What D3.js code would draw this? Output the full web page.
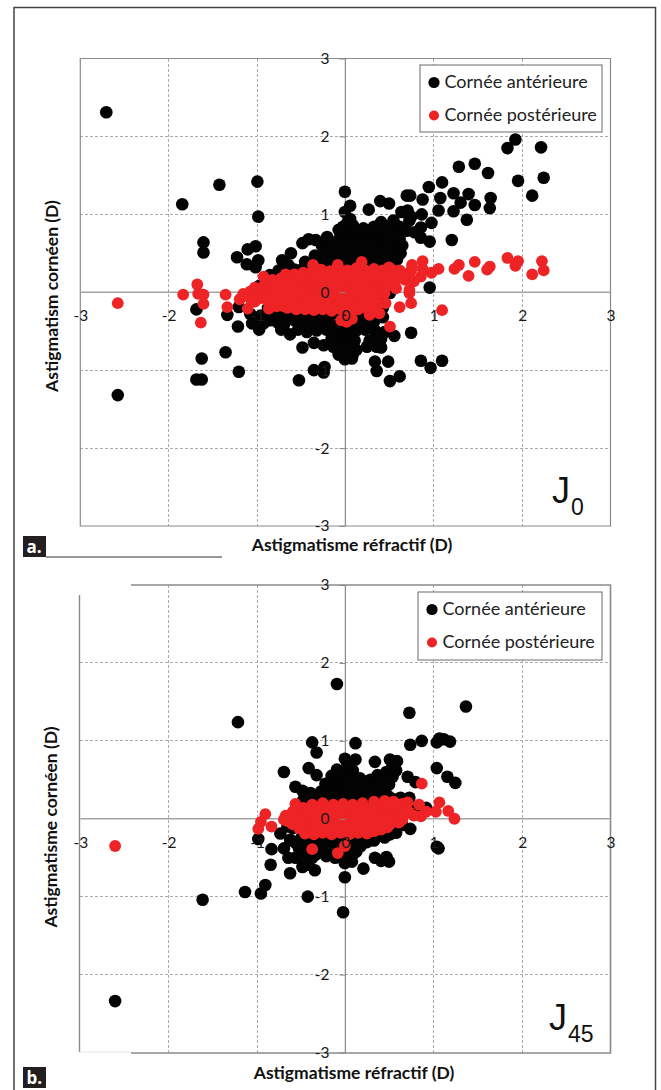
<!DOCTYPE html>
<meta charset="utf-8">
<style>
body { margin: 0; background: #fff; }
svg { display: block; }
text { font-family: Lato, "Open Sans", sans-serif; fill: #1a1a1a; }
.grid line { stroke: #ababab; stroke-width: 1px; stroke-dasharray: 3 2; shape-rendering: crispEdges; }
.axis path { display: none; }
.axis line { stroke: #888; }
.axis text { font-size: 15.5px; font-family: Lato, sans-serif; fill: #1a1a1a; }
.title { font-family: Lato, sans-serif; font-weight: 700; font-size: 17.5px; fill: #111; }
.legend-text { font-family: Lato, sans-serif; font-size: 18px; fill: #222; }
</style>
<div id="chart"></div>
<script src="https://d3js.org/d3.v7.min.js"></script>
<script>

// values, [refractive, corneal]
var tickValues = [-3, -2, -1, 0, 1, 2, 3];
var legendLabels = ["Cornée antérieure", "Cornée postérieure"];

// x values below were read against an origin about 2px too far right
var xReadShift = 0.024;

var anteriorA = [
  [-2.73,2.31],[-2.60,-1.32],[-1.87,1.13],[-1.45,1.38],[-1.02,1.42],[-1.01,0.97],[-1.63,0.64],[-1.63,0.51],
  [-1.25,0.45],[-1.13,0.55],[-1.04,0.59],[-1.14,0.36],[-1.01,0.41],[-1.04,0.32],[-0.03,1.29],[0.03,1.11],
  [-0.03,1.03],[0.03,0.94],[0.24,1.06],[0.37,1.17],[0.47,1.14],[0.67,1.24],[-0.51,0.63],[-0.44,0.68],
  [-0.36,0.67],[-0.23,0.71],[-0.64,0.50],[-0.74,0.41],[-0.78,0.28],[-0.67,0.35],[-0.48,0.39],[-0.37,0.47],
  [-0.29,0.60],[-0.20,0.50],[-0.08,0.75],[0.03,0.84],
  [1.90,1.96],[1.81,1.85],[2.19,1.86],[1.26,1.61],[1.44,1.65],[1.59,1.53],[1.93,1.43],[2.22,1.47],[2.09,1.24],
  [1.07,1.41],[0.92,1.35],[1.20,1.27],[1.37,1.26],[1.05,1.21],[1.62,1.21],[1.28,1.15],[1.44,1.12],[1.61,1.08],
  [1.03,1.05],[1.20,1.04],[1.35,0.93],[1.18,0.67],[0.71,1.24],[0.85,1.19],[0.84,1.00],[0.95,0.89],[0.93,0.65],
  [0.83,0.70],[0.83,0.83],[0.61,1.03],[0.68,1.05],[0.70,0.92],[0.59,0.84],[0.67,0.79],[0.59,0.69],[0.72,0.97],
  [0.76,0.77],[0.93,0.06],
  // dense part, upper
  [-0.05,0.84],[0.10,0.80],[0.30,0.84],[0.38,0.90],[0.46,0.84],[0.52,0.92],[-0.05,0.75],[0.04,0.72],[0.12,0.76],
  [0.22,0.74],[0.31,0.72],[0.40,0.76],[0.48,0.72],[0.55,0.76],[-0.12,0.65],[-0.04,0.64],[0.05,0.66],[0.12,0.63],
  [0.20,0.66],[0.28,0.63],[0.36,0.66],[0.44,0.63],[0.52,0.62],[0.62,0.60],[-0.20,0.56],[-0.11,0.55],[-0.03,0.57],
  [0.05,0.54],[0.13,0.56],[0.22,0.54],[0.31,0.56],[0.39,0.53],[0.47,0.55],[0.54,0.50],[-0.30,0.44],[-0.21,0.43],
  [-0.13,0.46],[-0.05,0.44],[0.03,0.46],[0.11,0.43],[0.20,0.45],[0.28,0.43],[0.36,0.46],[0.44,0.43],[0.52,0.40],
  [-0.42,0.33],[-0.32,0.35],[-0.22,0.34],[-0.13,0.33],[-0.04,0.35],[0.05,0.33],[0.14,0.35],[0.24,0.33],[0.33,0.35],
  [0.42,0.33],[0.50,0.30],[-0.88,0.22],[-0.75,0.22],[-0.62,0.24],[-0.50,0.23],[-0.38,0.25],[-0.26,0.24],[-0.14,0.25],
  [-0.02,0.24],[0.10,0.25],[0.22,0.24],[0.34,0.25],[0.46,0.22],
  [0.00,0.90],[0.06,0.86],[-0.10,0.80],[0.14,0.70],[0.18,0.82],[0.26,0.80],[0.36,0.80],[0.44,0.78],[0.50,0.68],
  [0.58,0.58],[0.60,0.50],[0.56,0.42],[-0.16,0.60],[-0.08,0.60],[0.00,0.60],[0.08,0.60],[0.16,0.60],[0.24,0.60],
  [0.32,0.60],[0.40,0.60],[0.48,0.60],[-0.26,0.50],[-0.18,0.50],[-0.10,0.50],[-0.02,0.50],[0.06,0.50],[0.14,0.50],
  [0.22,0.50],[0.30,0.50],[0.38,0.50],[0.46,0.50],[-0.36,0.39],[-0.27,0.39],[-0.18,0.39],[-0.09,0.39],[0.00,0.39],
  [0.09,0.39],[0.18,0.39],[0.27,0.39],[0.36,0.39],[0.45,0.39],[-0.60,0.29],[-0.52,0.29],[-0.44,0.29],[-0.35,0.29],
  [-0.26,0.29],[-0.17,0.29],[-0.08,0.29],[0.01,0.29],[0.10,0.29],[0.19,0.29],[0.28,0.29],[0.37,0.29],[0.46,0.29],
  // dense part, behind the red
  [-1.00,0.08],[-0.80,0.10],[-0.60,0.10],[-0.40,0.10],[-0.20,0.10],[0.00,0.10],[0.20,0.10],[0.40,0.12],[-1.05,-0.08],
  [-0.85,-0.05],[-0.62,-0.05],[-0.40,-0.05],[-0.20,-0.05],[0.00,-0.05],[0.20,-0.05],[0.37,-0.03],[0.48,-0.01],
  [-0.90,-0.20],[-0.78,-0.20],[-0.66,-0.20],[-0.54,-0.20],[-0.42,-0.20],[-0.30,-0.20],[-0.18,-0.20],[-0.06,-0.20],
  [0.06,-0.20],[0.18,-0.20],[0.30,-0.20],[0.40,-0.20],
  // lower
  [-1.71,-0.22],[-1.36,-0.29],[-1.23,-0.19],[-1.24,-0.44],[-1.65,-0.85],[-1.38,-0.77],[-1.23,-1.02],[-1.71,-1.12],
  [-1.65,-1.12],[-0.55,-1.13],[-0.38,-1.00],[-0.26,-0.96],[-0.27,-1.03],[-0.51,-0.71],[-0.38,-0.65],[-0.27,-0.68],
  [-1.00,-0.48],[-1.08,-0.40],[-0.98,-0.30],[-0.87,-0.36],[-0.80,-0.30],[-0.72,-0.42],[-0.65,-0.54],[-0.60,-0.36],
  [-0.46,-0.51],[-0.35,-0.49],[-0.48,-0.38],[-0.38,-0.36],[-0.26,-0.34],[-0.03,-0.86],[0.05,-0.85],[-0.10,-0.77],
  [-0.05,-0.68],[0.03,-0.62],[-0.12,-0.57],[-0.16,-0.49],[-0.05,-0.49],[0.05,-0.51],[-0.08,-0.40],[-0.20,-0.40],
  [0.02,-0.76],[-0.03,-0.58],[0.10,-0.74],[0.22,-0.70],[0.33,-0.70],[0.38,-0.71],[0.31,-0.59],[0.31,-0.49],
  [0.22,-0.40],[0.14,-0.38],[0.10,-0.49],[0.31,-0.89],[0.46,-0.89],[0.33,-1.01],[0.48,-1.14],[0.59,-1.08],
  [0.83,-0.88],[0.94,-0.97],[1.07,-0.88],[0.72,-0.52],[0.53,-0.56],[0.42,-0.51],[0.30,-0.38],
  [-1.10,-0.28],[-0.90,-0.28],[-0.68,-0.30],[-0.56,-0.30],[-0.44,-0.30],[-0.32,-0.30],[-0.20,-0.30],[-0.08,-0.30],
  [0.04,-0.30],[0.16,-0.30],[0.28,-0.30],[0.40,-0.32],[-0.95,-0.40],[-0.78,-0.40],[-0.52,-0.42],[-0.42,-0.44],
  [-0.30,-0.42],[0.00,-0.40],[0.10,-0.40],[-0.75,-0.48],[-0.56,-0.48],[-0.24,-0.48],[0.20,-0.48],[-0.18,-0.60],
  [-0.10,-0.62],[-0.02,-0.60],[0.08,-0.62],[-0.16,-0.70],[-0.08,-0.70],[0.00,-0.70],[0.07,-0.70],[-0.10,-0.80],
  [-0.02,-0.80],[0.06,-0.80],[0.25,-0.62],[0.38,-0.60]
];

var posteriorA = [
  [-2.60,-0.14],[-1.86,-0.03],[-1.70,0.10],[-1.69,-0.02],[-1.63,-0.03],[-1.63,-0.15],[-1.66,-0.39],[-1.36,-0.19],
  [-1.38,-0.03],[-1.22,-0.09],[-1.13,-0.21],[-0.89,-0.21],[-0.95,0.20],[-0.39,0.35],[-0.11,0.35],[0.16,0.39],
  [0.47,0.32],[1.81,0.44],[1.93,0.40],[1.90,0.34],[2.20,0.40],[2.22,0.28],[2.09,0.23],[1.44,0.39],[1.26,0.35],
  [1.21,0.30],[1.37,0.21],[1.61,0.33],[1.58,0.29],[1.03,0.30],[0.85,0.40],[0.73,0.35],[0.95,0.25],[0.83,0.20],
  [0.85,0.30],[0.70,0.22],[0.72,0.28],[0.63,0.24],[0.59,0.28],[0.70,0.03],[1.07,-0.23],[0.72,-0.14],[0.59,-0.19],
  [0.70,-0.01],[0.48,-0.44],[0.43,-0.14],[0.35,-0.14],[0.36,-0.27],[0.25,-0.29],[-0.07,-0.36],[0.05,-0.34],[-0.01,-0.38],
  // dense band
  [-0.40,0.27],[-0.30,0.29],[-0.20,0.27],[-0.10,0.30],[0.00,0.28],[0.10,0.31],[0.20,0.28],[0.30,0.30],[0.40,0.28],
  [0.50,0.29],[0.60,0.26],[-0.85,0.16],[-0.75,0.18],[-0.65,0.17],[-0.55,0.19],[-0.45,0.17],[-0.35,0.19],[-0.25,0.17],
  [-0.15,0.19],[-0.05,0.17],[0.05,0.19],[0.15,0.17],[0.25,0.19],[0.35,0.17],[0.45,0.19],[0.55,0.16],[0.65,0.16],
  [0.75,0.14],[-1.05,0.06],[-0.95,0.08],[-0.85,0.06],[-0.75,0.08],[-0.65,0.06],[-0.55,0.08],[-0.45,0.06],[-0.35,0.08],
  [-0.25,0.06],[-0.15,0.08],[-0.05,0.06],[0.05,0.08],[0.15,0.06],[0.25,0.08],[0.35,0.06],[0.45,0.08],[0.55,0.05],
  [-1.18,-0.02],[-1.08,-0.04],[-0.98,-0.02],[-0.88,-0.04],[-0.78,-0.02],[-0.68,-0.04],[-0.58,-0.02],[-0.48,-0.04],
  [-0.38,-0.02],[-0.28,-0.04],[-0.18,-0.02],[-0.08,-0.04],[0.02,-0.02],[0.12,-0.04],[0.22,-0.02],[0.32,-0.04],[0.42,-0.01],
  [-1.05,-0.12],[-0.90,-0.12],[-0.75,-0.14],[-0.65,-0.12],[-0.55,-0.14],[-0.45,-0.12],[-0.35,-0.14],[-0.25,-0.12],
  [-0.15,-0.14],[-0.05,-0.12],[0.05,-0.14],[0.15,-0.12],[0.25,-0.14],[-0.68,-0.20],[-0.58,-0.22],[-0.48,-0.22],[-0.38,-0.23],
  [-0.28,-0.22],[-0.18,-0.24],[-0.08,-0.22],[0.02,-0.24],[0.12,-0.22],[0.20,-0.20],
  [-0.70,0.23],[-0.60,0.23],[-0.50,0.25],[-0.35,0.24],[-0.25,0.24],[-0.15,0.24],[-0.05,0.24],[0.05,0.24],[0.15,0.24],
  [0.25,0.24],[0.35,0.24],[0.45,0.24],[0.55,0.22],[-0.90,0.12],[-0.80,0.12],[-0.70,0.12],[-0.60,0.12],[-0.50,0.12],
  [-0.40,0.12],[-0.30,0.12],[-0.20,0.12],[-0.10,0.12],[0.00,0.12],[0.10,0.12],[0.20,0.12],[0.30,0.12],[0.40,0.12],
  [0.50,0.12],[-1.10,0.01],[-1.00,0.01],[-0.90,0.01],[-0.80,0.01],[-0.70,0.01],[-0.60,0.01],[-0.50,0.01],[-0.40,0.01],
  [-0.30,0.01],[-0.20,0.01],[-0.10,0.01],[0.00,0.01],[0.10,0.01],[0.20,0.01],[0.30,0.01],[0.40,0.03],[-1.10,-0.08],
  [-1.00,-0.08],[-0.90,-0.08],[-0.80,-0.08],[-0.70,-0.08],[-0.60,-0.08],[-0.50,-0.08],[-0.40,-0.08],[-0.30,-0.08],
  [-0.20,-0.08],[-0.10,-0.08],[0.00,-0.08],[0.10,-0.08],[0.20,-0.08],[0.30,-0.08],[-0.80,-0.18],[-0.72,-0.18],[-0.62,-0.18],
  [-0.52,-0.18],[-0.42,-0.18],[-0.32,-0.18],[-0.22,-0.18],[-0.12,-0.18],[-0.02,-0.18],[0.08,-0.18],[0.16,-0.18],[0.28,-0.20]
];

var anteriorB = [
  [-2.63,-2.34],[-1.64,-1.04],[-1.24,1.24],[-0.12,1.73],[1.34,1.44],[0.70,1.36],[-0.40,0.98],[-0.35,0.85],[0.09,0.97],
  [0.71,0.95],[0.84,1.00],[1.01,0.98],[1.04,1.03],[1.09,1.02],[1.16,0.99],[1.01,0.65],[1.13,0.54],[1.22,0.46],
  [-0.72,0.60],[-0.44,0.65],[-0.35,0.56],[-0.03,0.77],[0.09,0.76],[0.31,0.73],[0.48,0.76],[0.56,0.74],[-0.59,0.41],
  [-0.51,0.36],[-0.42,0.33],[0.68,0.54],[0.77,0.47],[0.89,0.14],[0.70,0.27],[1.03,-0.38],[0.71,-0.13],
  // dense part, upper
  [-0.12,0.63],[0.00,0.69],[0.06,0.62],[0.50,0.65],[0.44,0.60],[0.51,0.54],[0.55,0.62],[-0.18,0.55],[-0.10,0.54],
  [-0.02,0.56],[0.06,0.54],[0.14,0.52],[0.26,0.50],[0.34,0.56],[0.42,0.52],[-0.25,0.45],[-0.17,0.44],[-0.09,0.46],
  [-0.01,0.44],[0.07,0.46],[0.15,0.44],[0.23,0.46],[0.31,0.44],[0.39,0.46],[0.47,0.44],[-0.30,0.35],[-0.22,0.34],
  [-0.14,0.36],[-0.06,0.34],[0.02,0.36],[0.10,0.34],[0.18,0.36],[0.26,0.34],[0.34,0.36],[0.42,0.34],[-0.50,0.24],
  [-0.40,0.25],[-0.30,0.24],[-0.20,0.25],[-0.10,0.24],[0.00,0.25],[0.10,0.24],[0.20,0.25],[0.30,0.24],[0.40,0.25],
  [0.50,0.26],[0.60,0.27],[-0.58,0.14],[-0.62,0.05],[0.72,0.10],[0.80,0.14],
  [-0.06,0.60],[-0.14,0.50],[-0.06,0.50],[0.02,0.50],[0.10,0.50],[0.18,0.48],[0.34,0.48],[0.44,0.50],[-0.22,0.40],
  [-0.14,0.40],[-0.06,0.40],[0.02,0.40],[0.10,0.40],[0.18,0.40],[0.26,0.40],[0.34,0.40],[0.42,0.40],[-0.34,0.29],
  [-0.26,0.29],[-0.18,0.29],[-0.10,0.29],[-0.02,0.29],[0.06,0.29],[0.14,0.29],[0.22,0.29],[0.30,0.29],[0.38,0.29],
  [0.46,0.29],[0.56,0.22],
  // lower
  [-1.01,-0.26],[-0.86,-0.39],[-0.87,-0.59],[-0.76,-0.19],[-0.65,-0.27],[-0.72,-0.38],[-0.67,-0.50],[-0.65,-0.70],
  [-0.51,-0.62],[-0.37,-0.66],[-0.44,-0.59],[-0.59,-0.50],[-0.55,-0.38],[-0.03,-0.75],[-0.03,-0.57],[0.05,-0.55],
  [0.18,-0.64],[0.31,-0.50],[0.38,-0.54],[0.44,-0.49],[0.47,-0.55],[1.01,-0.36],[-0.93,-0.85],[-0.98,-0.96],
  [-1.16,-0.94],[-0.45,-1.00],[-0.05,-1.20],[-0.62,-0.12],[-0.50,-0.16],[-0.40,-0.14],[-0.30,-0.16],[-0.20,-0.14],
  [-0.10,-0.16],[0.00,-0.14],[0.10,-0.16],[0.20,-0.14],[0.30,-0.16],[0.40,-0.14],[0.50,-0.13],[0.62,-0.08],
  [-0.52,-0.24],[-0.42,-0.26],[-0.32,-0.24],[-0.22,-0.26],[-0.12,-0.24],[-0.02,-0.26],[0.08,-0.24],[0.18,-0.26],
  [0.28,-0.24],[0.37,-0.20],[0.48,-0.20],[-0.45,-0.36],[-0.35,-0.38],[-0.25,-0.36],[-0.15,-0.38],[-0.05,-0.36],
  [0.05,-0.38],[0.15,-0.35],[-0.36,-0.46],[-0.24,-0.48],[-0.14,-0.50],[-0.04,-0.48],[0.06,-0.46],
  [-0.60,-0.30],[-0.48,-0.31],[-0.38,-0.31],[-0.28,-0.31],[-0.18,-0.31],[-0.08,-0.31],[0.02,-0.31],[0.12,-0.31],
  [0.22,-0.30],[0.30,-0.28],[-0.48,-0.44],[-0.52,-0.52],[-0.40,-0.50],[-0.30,-0.42],[-0.20,-0.42],[-0.10,-0.42],
  [0.00,-0.42],[0.10,-0.42],[-0.68,-0.10],[0.55,-0.18],[0.42,-0.24]
];

var posteriorB = [
  [-2.63,-0.35],[0.84,0.45],[1.04,0.21],[1.00,0.09],[1.14,0.10],[1.21,0.00],[0.81,0.18],[0.83,0.03],[0.68,0.21],
  [0.89,0.09],[-0.93,0.06],[-0.98,-0.04],[-1.01,-0.13],[-0.86,-0.10],[-0.72,-0.01],[-0.59,0.19],[-0.40,-0.39],
  [-0.11,-0.44],[-0.03,-0.35],
  // dense band
  [-0.40,0.18],[-0.28,0.20],[-0.16,0.18],[-0.05,0.19],[0.06,0.18],[0.17,0.20],[0.30,0.22],[0.42,0.23],[0.52,0.22],
  [0.62,0.19],[-0.62,0.09],[-0.52,0.07],[-0.42,0.09],[-0.32,0.07],[-0.22,0.09],[-0.12,0.07],[-0.02,0.09],[0.08,0.07],
  [0.18,0.09],[0.28,0.07],[0.38,0.09],[0.48,0.07],[0.58,0.09],[0.70,0.08],[-0.68,-0.03],[-0.58,-0.01],[-0.48,-0.03],
  [-0.38,-0.01],[-0.28,-0.03],[-0.18,-0.01],[-0.08,-0.03],[0.02,-0.01],[0.12,-0.03],[0.22,-0.01],[0.32,-0.03],
  [0.42,-0.01],[0.52,-0.03],[0.62,-0.01],[-0.55,-0.12],[-0.45,-0.10],[-0.35,-0.12],[-0.25,-0.10],[-0.15,-0.12],
  [-0.05,-0.10],[0.05,-0.12],[0.15,-0.10],[0.25,-0.12],[0.35,-0.10],[0.45,-0.11],[-0.48,-0.19],[-0.38,-0.20],
  [-0.28,-0.18],[-0.18,-0.20],[-0.08,-0.18],[0.02,-0.20],[0.12,-0.18],[0.22,-0.19],[0.30,-0.16],
  [-0.50,0.14],[-0.40,0.14],[-0.30,0.14],[-0.20,0.14],[-0.10,0.14],[0.00,0.14],[0.10,0.14],[0.20,0.14],[0.30,0.14],
  [0.40,0.14],[0.50,0.14],[0.60,0.14],[-0.70,0.04],[-0.60,0.04],[-0.50,0.04],[-0.40,0.04],[-0.30,0.04],[-0.20,0.04],
  [-0.10,0.04],[0.00,0.04],[0.10,0.04],[0.20,0.04],[0.30,0.04],[0.40,0.04],[0.50,0.04],[0.60,0.04],[0.75,0.04],
  [-0.62,-0.07],[-0.52,-0.07],[-0.42,-0.07],[-0.32,-0.07],[-0.22,-0.07],[-0.12,-0.07],[-0.02,-0.07],[0.08,-0.07],
  [0.18,-0.07],[0.28,-0.07],[0.38,-0.07],[0.48,-0.07],[0.58,-0.05],[-0.50,-0.15],[-0.40,-0.15],[-0.30,-0.15],
  [-0.20,-0.15],[-0.10,-0.15],[0.00,-0.15],[0.10,-0.15],[0.20,-0.15],[0.30,-0.15],[0.38,-0.14]
];

var svg = d3.select("#chart").append("svg")
  .attr("width", 661)
  .attr("height", 1090);

// outer frame, runs off the bottom of the page
svg.append("path")
  .attr("d", "M14,1090V7.5H655.5V1090")
  .attr("fill", "none")
  .attr("stroke", "#444")
  .attr("stroke-width", 1.5);

var plotLeft = 80.3, plotRight = 610.5;

function drawPanel(opts) {
  var x = d3.scaleLinear().domain([-3, 3]).range([plotLeft, plotRight]);
  var y = d3.scaleLinear().domain([-3, 3]).range([opts.bottom, opts.top]);
  var g = svg.append("g");

  // grid
  g.append("g").attr("class", "grid").selectAll("line")
    .data(tickValues.filter(function(d) { return Math.abs(d) == 1 || Math.abs(d) == 2; }))
    .enter().append("line")
    .attr("x1", function(d) { return x(d); })
    .attr("x2", function(d) { return x(d); })
    .attr("y1", opts.top)
    .attr("y2", opts.bottom);
  g.append("g").attr("class", "grid").selectAll("line")
    .data(tickValues.filter(function(d) { return Math.abs(d) == 1 || Math.abs(d) == 2; }))
    .enter().append("line")
    .attr("x1", plotLeft)
    .attr("x2", plotRight)
    .attr("y1", function(d) { return y(d); })
    .attr("y2", function(d) { return y(d); });

  // plot border and zero lines
  opts.border.forEach(function(b) {
    g.append("path")
      .attr("d", b.d)
      .attr("fill", "none")
      .attr("stroke", b.color || "#8a8a8a")
      .attr("stroke-width", b.w || 1.2);
  });
  g.append("line")
    .attr("x1", x(0)).attr("x2", x(0))
    .attr("y1", opts.top).attr("y2", opts.bottom)
    .attr("stroke", "#8f8f8f").attr("stroke-width", 1.3);
  g.append("line")
    .attr("x1", plotLeft).attr("x2", plotRight)
    .attr("y1", y(0)).attr("y2", y(0))
    .attr("stroke", "#a3a3a3").attr("stroke-width", 1.6);

  // points
  g.append("g").selectAll("circle")
    .data(opts.anterior)
    .enter().append("circle")
    .attr("cx", function(d) { return x(d[0] + xReadShift); })
    .attr("cy", function(d) { return y(d[1]); })
    .attr("r", 6.3)
    .attr("fill", "#030303");
  g.append("g").selectAll("circle")
    .data(opts.posterior)
    .enter().append("circle")
    .attr("cx", function(d) { return x(d[0] + xReadShift); })
    .attr("cy", function(d) { return y(d[1]); })
    .attr("r", 5.9)
    .attr("fill", "#ee2326");

  // axes sit on top so the 0 labels show over the points
  var yAxis = d3.axisLeft(y).tickValues(tickValues).tickSize(6).tickPadding(10).tickFormat(d3.format("d"));
  var xAxis = d3.axisBottom(x).tickValues(tickValues).tickSize(0).tickPadding(18).tickFormat(d3.format("d"));
  g.append("g").attr("class", "axis").attr("transform", "translate(" + x(0) + ",0)").call(yAxis);
  g.append("g").attr("class", "axis").attr("transform", "translate(0," + y(0) + ")").call(xAxis);
  g.selectAll(".axis text").text(function(d) { return String(d).replace("\u2212", "-"); });

  // legend
  var lg = g.append("g");
  lg.append("rect")
    .attr("x", opts.legend.x).attr("y", opts.legend.y)
    .attr("width", 602 - opts.legend.x).attr("height", opts.legend.h)
    .attr("fill", "#fff").attr("stroke", "#6a6a6a").attr("stroke-width", 1);
  legendLabels.forEach(function(label, i) {
    var ly = opts.legend.y + 17.5 + i * 33;
    lg.append("circle")
      .attr("cx", opts.legend.x + 14).attr("cy", ly)
      .attr("r", i == 0 ? 5.6 : 5)
      .attr("fill", i == 0 ? "#030303" : "#ee2326");
    lg.append("text")
      .attr("class", "legend-text")
      .attr("x", opts.legend.x + 24.5).attr("y", ly + 5.5)
      .text(label);
  });

  // titles
  g.append("text")
    .attr("class", "title")
    .attr("text-anchor", "middle")
    .attr("x", opts.xTitle[1]).attr("y", opts.xTitle[2])
    .text(opts.xTitle[0]);
  g.append("text")
    .attr("class", "title")
    .attr("text-anchor", "middle")
    .attr("transform", "translate(" + opts.yTitle[1] + "," + opts.yTitle[2] + ") rotate(-90)")
    .text(opts.yTitle[0]);

  // J0 / J45
  g.append("text")
    .attr("x", opts.jx).attr("y", opts.jy)
    .style("font-family", "Liberation Sans")
    .style("font-size", "36px")
    .style("fill", "#111")
    .text("J");
  g.append("text")
    .attr("x", opts.jx + 19).attr("y", opts.jy + 12)
    .style("font-family", "Liberation Sans")
    .style("font-size", "23px")
    .style("fill", "#111")
    .text(opts.jSub);

  // panel tag
  g.append("rect")
    .attr("x", 23).attr("y", opts.tagY)
    .attr("width", 23).attr("height", 21)
    .attr("fill", "#231f20");
  g.append("text")
    .attr("x", 26.5).attr("y", opts.tagY + 17)
    .style("font-family", "Open Sans")
    .style("font-weight", 700)
    .style("font-size", "17px")
    .style("fill", "#fff")
    .text(opts.tag);
}

drawPanel({
  top: 58.5, bottom: 526,
  anterior: anteriorA, posterior: posteriorA,
  border: [{ d: "M80.3,58.5H610.5V526H80.3Z" }],
  legend: { x: 420, y: 65, h: 67 },
  xTitle: ["Astigmatisme réfractif (D)", 352, 551],
  yTitle: ["Astigmatism cornéen (D)", 58, 296],
  jx: 552, jy: 503, jSub: "0",
  tag: "a.", tagY: 536
});

drawPanel({
  top: 585, bottom: 1052.5,
  anterior: anteriorB, posterior: posteriorB,
  border: [
    { d: "M131,585H610.5V1053H131", w: 1.6 },
    { d: "M79.5,595V1052", w: 1.4 },
    { d: "M79.5,1052H131", color: "#e4e4e4", w: 1 }
  ],
  legend: { x: 418, y: 592, h: 68 },
  xTitle: ["Astigmatisme  réfractif (D)", 354, 1079],
  yTitle: ["Astigmatisme cornéen (D)", 57, 827],
  jx: 549, jy: 1030, jSub: "45",
  tag: "b.", tagY: 1067
});

// rule next to the a. tag
svg.append("line")
  .attr("x1", 46).attr("x2", 222)
  .attr("y1", 557).attr("y2", 557)
  .attr("stroke", "#333").attr("stroke-width", 1);

</script>
